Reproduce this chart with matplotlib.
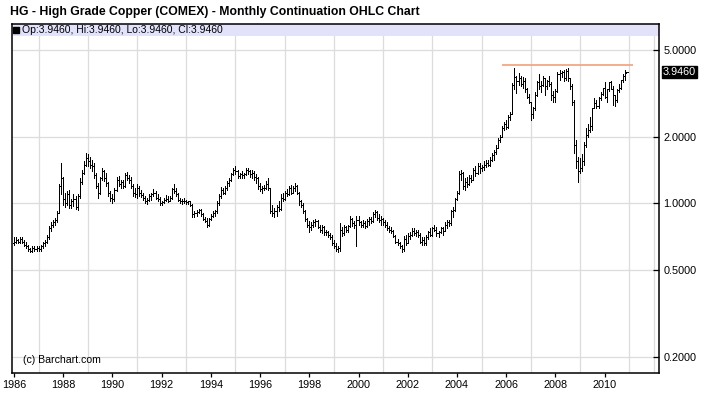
import numpy as np
import matplotlib
matplotlib.use("Agg")
from matplotlib import pyplot as plt
from matplotlib.collections import LineCollection
from matplotlib.patches import Rectangle
from matplotlib.ticker import FixedLocator, NullLocator, FixedFormatter
import matplotlib.transforms as mtransforms

plt.rcParams['font.family'] = ['Liberation Sans', 'DejaVu Sans']

first_year = 1986

# monthly continuation bars, one row per year (1986 .. 2010)
opens = [
    0.66, 0.67, 0.68, 0.67, 0.69, 0.67, 0.65, 0.64, 0.62, 0.61, 0.63, 0.62,
    0.63, 0.62, 0.64, 0.66, 0.67, 0.70, 0.77, 0.80, 0.82, 0.84, 0.90, 1.20,
    1.30, 1.05, 1.00, 1.10, 0.98, 1.02, 1.05, 0.96, 1.08, 1.25, 1.38, 1.50,
    1.60, 1.55, 1.50, 1.48, 1.35, 1.20, 1.12, 1.30, 1.40, 1.30, 1.24, 1.12,
    1.06, 1.05, 1.15, 1.28, 1.22, 1.25, 1.20, 1.35, 1.30, 1.28, 1.20, 1.12,
    1.10, 1.18, 1.12, 1.09, 1.06, 1.02, 1.04, 1.08, 1.10, 1.12, 1.06, 1.05,
    1.00, 1.01, 1.04, 1.05, 1.03, 1.06, 1.16, 1.14, 1.10, 1.04, 1.02, 1.03,
    1.03, 1.01, 1.02, 0.98, 0.89, 0.90, 0.91, 0.93, 0.89, 0.85, 0.83, 0.80,
    0.85, 0.88, 0.90, 0.92, 1.00, 1.08, 1.15, 1.12, 1.18, 1.24, 1.28, 1.36,
    1.42, 1.40, 1.33, 1.36, 1.34, 1.36, 1.42, 1.40, 1.36, 1.38, 1.32, 1.30,
    1.20, 1.16, 1.18, 1.17, 1.22, 1.18, 0.92, 0.90, 0.92, 0.96, 0.94, 1.06,
    1.05, 1.12, 1.10, 1.17, 1.12, 1.18, 1.20, 1.12, 1.02, 0.98, 0.92, 0.85,
    0.80, 0.78, 0.80, 0.82, 0.83, 0.78, 0.76, 0.78, 0.74, 0.74, 0.72, 0.70,
    0.66, 0.64, 0.62, 0.63, 0.76, 0.73, 0.78, 0.76, 0.79, 0.85, 0.81, 0.80,
    0.84, 0.82, 0.80, 0.81, 0.79, 0.83, 0.85, 0.83, 0.89, 0.91, 0.86, 0.84,
    0.85, 0.82, 0.80, 0.77, 0.76, 0.75, 0.71, 0.67, 0.66, 0.64, 0.62, 0.69,
    0.66, 0.71, 0.72, 0.75, 0.73, 0.74, 0.72, 0.67, 0.68, 0.66, 0.70, 0.74,
    0.72, 0.77, 0.76, 0.73, 0.74, 0.77, 0.75, 0.80, 0.82, 0.81, 0.92, 0.93,
    1.05, 1.12, 1.36, 1.38, 1.20, 1.25, 1.22, 1.30, 1.28, 1.42, 1.38, 1.48,
    1.45, 1.47, 1.50, 1.52, 1.50, 1.58, 1.65, 1.72, 1.78, 1.95, 2.00, 2.20,
    2.30, 2.22, 2.48, 2.55, 3.45, 3.75, 3.60, 3.70, 3.50, 3.60, 3.30, 3.05,
    2.88, 2.55, 2.70, 3.10, 3.55, 3.40, 3.45, 3.70, 3.40, 3.60, 3.50, 3.10,
    3.03, 3.25, 3.85, 3.90, 3.95, 3.70, 3.98, 3.70, 3.40, 2.90, 1.85, 1.55,
    1.40, 1.45, 1.55, 1.85, 2.05, 2.15, 2.25, 2.70, 2.85, 2.78, 3.00, 3.15,
    3.33, 3.05, 3.30, 3.55, 3.30, 3.10, 2.95, 3.28, 3.35, 3.62, 3.78, 3.946,
]
highs = [
    0.70, 0.70, 0.69, 0.70, 0.70, 0.68, 0.67, 0.65, 0.63, 0.64, 0.64, 0.64,
    0.64, 0.65, 0.67, 0.68, 0.72, 0.79, 0.82, 0.84, 0.86, 0.92, 1.23, 1.52,
    1.32, 1.12, 1.14, 1.15, 1.05, 1.10, 1.08, 1.10, 1.30, 1.42, 1.55, 1.69,
    1.68, 1.62, 1.58, 1.52, 1.38, 1.24, 1.32, 1.44, 1.42, 1.38, 1.25, 1.14,
    1.10, 1.18, 1.32, 1.33, 1.28, 1.28, 1.38, 1.39, 1.35, 1.32, 1.22, 1.18,
    1.22, 1.20, 1.15, 1.12, 1.08, 1.06, 1.10, 1.12, 1.16, 1.14, 1.10, 1.07,
    1.03, 1.06, 1.09, 1.08, 1.08, 1.18, 1.22, 1.18, 1.12, 1.06, 1.05, 1.06,
    1.04, 1.03, 1.03, 0.99, 0.92, 0.93, 0.94, 0.94, 0.90, 0.87, 0.86, 0.86,
    0.89, 0.92, 0.93, 1.02, 1.10, 1.19, 1.18, 1.20, 1.26, 1.30, 1.38, 1.45,
    1.48, 1.42, 1.38, 1.40, 1.38, 1.44, 1.45, 1.42, 1.42, 1.40, 1.36, 1.32,
    1.24, 1.20, 1.21, 1.26, 1.30, 1.18, 0.98, 0.95, 0.98, 1.02, 1.10, 1.12,
    1.14, 1.16, 1.20, 1.21, 1.20, 1.24, 1.21, 1.13, 1.04, 1.00, 0.93, 0.86,
    0.83, 0.82, 0.84, 0.85, 0.84, 0.80, 0.80, 0.79, 0.76, 0.75, 0.73, 0.72,
    0.68, 0.66, 0.64, 0.81, 0.78, 0.80, 0.79, 0.80, 0.88, 0.86, 0.83, 0.88,
    0.88, 0.83, 0.84, 0.83, 0.85, 0.87, 0.87, 0.91, 0.93, 0.92, 0.89, 0.88,
    0.86, 0.84, 0.82, 0.79, 0.78, 0.76, 0.72, 0.69, 0.67, 0.65, 0.71, 0.72,
    0.73, 0.74, 0.77, 0.77, 0.76, 0.76, 0.73, 0.70, 0.70, 0.72, 0.75, 0.77,
    0.78, 0.80, 0.78, 0.75, 0.78, 0.78, 0.82, 0.84, 0.84, 0.93, 0.96, 1.06,
    1.14, 1.40, 1.42, 1.39, 1.30, 1.32, 1.34, 1.35, 1.45, 1.48, 1.52, 1.52,
    1.50, 1.55, 1.57, 1.58, 1.62, 1.70, 1.75, 1.84, 1.98, 2.05, 2.25, 2.35,
    2.40, 2.52, 2.60, 3.51, 4.10, 3.80, 3.90, 3.80, 3.75, 3.70, 3.35, 3.15,
    2.90, 2.75, 3.20, 3.60, 3.85, 3.60, 3.80, 3.72, 3.65, 3.80, 3.55, 3.25,
    3.30, 3.95, 4.05, 4.00, 4.05, 4.08, 4.10, 3.70, 3.50, 2.95, 1.95, 1.62,
    1.60, 1.68, 1.90, 2.20, 2.30, 2.48, 2.70, 3.00, 2.95, 3.05, 3.20, 3.35,
    3.55, 3.30, 3.55, 3.60, 3.40, 3.10, 3.30, 3.50, 3.65, 3.85, 4.02, 3.946,
]
lows = [
    0.65, 0.66, 0.66, 0.66, 0.66, 0.64, 0.63, 0.61, 0.60, 0.60, 0.61, 0.61,
    0.61, 0.61, 0.63, 0.64, 0.66, 0.69, 0.75, 0.78, 0.80, 0.82, 0.90, 1.10,
    0.98, 0.96, 0.98, 0.95, 0.95, 0.97, 0.94, 0.93, 1.06, 1.23, 1.36, 1.48,
    1.48, 1.44, 1.40, 1.30, 1.17, 1.06, 1.10, 1.28, 1.26, 1.20, 1.08, 1.02,
    1.00, 1.03, 1.14, 1.20, 1.18, 1.17, 1.19, 1.27, 1.24, 1.18, 1.08, 1.07,
    1.06, 1.08, 1.07, 1.04, 1.00, 0.99, 1.02, 1.04, 1.08, 1.05, 1.03, 0.98,
    0.98, 1.00, 1.02, 1.01, 1.02, 1.05, 1.12, 1.08, 1.03, 1.00, 0.99, 1.00,
    0.99, 0.99, 0.97, 0.87, 0.87, 0.88, 0.90, 0.88, 0.84, 0.82, 0.78, 0.79,
    0.84, 0.87, 0.88, 0.90, 0.98, 1.06, 1.10, 1.10, 1.15, 1.20, 1.26, 1.34,
    1.36, 1.30, 1.30, 1.31, 1.30, 1.35, 1.36, 1.32, 1.30, 1.28, 1.24, 1.16,
    1.14, 1.12, 1.15, 1.16, 1.15, 0.90, 0.88, 0.87, 0.88, 0.92, 0.93, 1.02,
    1.04, 1.08, 1.09, 1.10, 1.11, 1.14, 1.10, 0.98, 0.96, 0.90, 0.83, 0.78,
    0.74, 0.76, 0.78, 0.79, 0.77, 0.74, 0.73, 0.72, 0.72, 0.70, 0.69, 0.65,
    0.63, 0.61, 0.60, 0.61, 0.71, 0.72, 0.74, 0.74, 0.78, 0.79, 0.77, 0.64,
    0.80, 0.78, 0.78, 0.77, 0.78, 0.80, 0.81, 0.82, 0.87, 0.84, 0.82, 0.80,
    0.80, 0.78, 0.76, 0.74, 0.73, 0.70, 0.66, 0.65, 0.63, 0.60, 0.61, 0.65,
    0.66, 0.69, 0.71, 0.72, 0.71, 0.70, 0.66, 0.65, 0.65, 0.65, 0.69, 0.71,
    0.71, 0.75, 0.71, 0.70, 0.73, 0.72, 0.75, 0.77, 0.79, 0.80, 0.87, 0.92,
    1.04, 1.10, 1.28, 1.16, 1.15, 1.19, 1.21, 1.25, 1.27, 1.33, 1.36, 1.38,
    1.40, 1.42, 1.47, 1.48, 1.48, 1.55, 1.58, 1.68, 1.78, 1.90, 2.00, 2.15,
    2.18, 2.20, 2.40, 2.55, 3.30, 3.16, 3.45, 3.40, 3.35, 3.20, 3.00, 2.85,
    2.40, 2.45, 2.66, 3.08, 3.30, 3.20, 3.40, 3.10, 3.30, 3.40, 2.95, 2.90,
    2.90, 3.20, 3.65, 3.75, 3.60, 3.65, 3.60, 3.30, 2.80, 1.70, 1.45, 1.25,
    1.38, 1.40, 1.50, 1.80, 2.00, 2.12, 2.15, 2.70, 2.70, 2.70, 2.95, 3.10,
    3.00, 2.90, 3.25, 3.30, 2.80, 2.76, 2.90, 3.20, 3.30, 3.55, 3.62, 3.946,
]
closes = [
    0.67, 0.68, 0.67, 0.69, 0.67, 0.65, 0.64, 0.62, 0.61, 0.63, 0.62, 0.63,
    0.62, 0.64, 0.66, 0.67, 0.70, 0.77, 0.80, 0.82, 0.84, 0.90, 1.20, 1.30,
    1.05, 1.00, 1.10, 0.98, 1.02, 1.05, 0.96, 1.08, 1.25, 1.38, 1.50, 1.60,
    1.55, 1.50, 1.48, 1.35, 1.20, 1.12, 1.30, 1.40, 1.30, 1.24, 1.12, 1.06,
    1.05, 1.15, 1.28, 1.22, 1.25, 1.20, 1.35, 1.30, 1.28, 1.20, 1.12, 1.10,
    1.18, 1.12, 1.09, 1.06, 1.02, 1.04, 1.08, 1.10, 1.12, 1.06, 1.05, 1.00,
    1.01, 1.04, 1.05, 1.03, 1.06, 1.16, 1.14, 1.10, 1.04, 1.02, 1.03, 1.03,
    1.01, 1.02, 0.98, 0.89, 0.90, 0.91, 0.93, 0.89, 0.85, 0.83, 0.80, 0.85,
    0.88, 0.90, 0.92, 1.00, 1.08, 1.15, 1.12, 1.18, 1.24, 1.28, 1.36, 1.42,
    1.40, 1.33, 1.36, 1.34, 1.36, 1.42, 1.40, 1.36, 1.38, 1.32, 1.30, 1.20,
    1.16, 1.18, 1.17, 1.22, 1.18, 0.92, 0.90, 0.92, 0.96, 0.94, 1.06, 1.05,
    1.12, 1.10, 1.17, 1.12, 1.18, 1.20, 1.12, 1.02, 0.98, 0.92, 0.85, 0.80,
    0.78, 0.80, 0.82, 0.83, 0.78, 0.76, 0.78, 0.74, 0.74, 0.72, 0.70, 0.66,
    0.64, 0.62, 0.63, 0.76, 0.73, 0.78, 0.76, 0.79, 0.85, 0.81, 0.80, 0.84,
    0.82, 0.80, 0.81, 0.79, 0.83, 0.85, 0.83, 0.89, 0.91, 0.86, 0.84, 0.85,
    0.82, 0.80, 0.77, 0.76, 0.75, 0.71, 0.67, 0.66, 0.64, 0.62, 0.69, 0.66,
    0.71, 0.72, 0.75, 0.73, 0.74, 0.72, 0.67, 0.68, 0.66, 0.70, 0.74, 0.72,
    0.77, 0.76, 0.73, 0.74, 0.77, 0.75, 0.80, 0.82, 0.81, 0.92, 0.93, 1.05,
    1.12, 1.36, 1.38, 1.20, 1.25, 1.22, 1.30, 1.28, 1.42, 1.38, 1.48, 1.45,
    1.47, 1.50, 1.52, 1.50, 1.58, 1.65, 1.72, 1.78, 1.95, 2.00, 2.20, 2.30,
    2.22, 2.48, 2.55, 3.45, 3.75, 3.60, 3.70, 3.50, 3.60, 3.30, 3.05, 2.88,
    2.55, 2.70, 3.10, 3.55, 3.40, 3.45, 3.70, 3.40, 3.60, 3.50, 3.10, 3.03,
    3.25, 3.85, 3.90, 3.95, 3.70, 3.98, 3.70, 3.40, 2.90, 1.85, 1.55, 1.40,
    1.45, 1.55, 1.85, 2.05, 2.15, 2.25, 2.70, 2.85, 2.78, 3.00, 3.15, 3.33,
    3.05, 3.30, 3.55, 3.30, 3.10, 2.95, 3.28, 3.35, 3.62, 3.78, 3.90, 3.946,
]

last_price = 3.946
high_line = 4.25
high_line_from = 2005.83
high_line_to = 2011.14
price_ticks = [0.2, 0.5, 1.0, 2.0, 5.0]
year_ticks = list(range(1986, 2011, 2))
grid_years = list(range(1986, 2013))

t = first_year + np.arange(len(closes)) / 12.0

W, H = 702, 394
fig = plt.figure(figsize=(W / 100, H / 100), dpi=100)
ax = fig.add_axes([11.7 / W, 1 - 372.7 / H, (659.3 - 11.7) / W, (372.7 - 24) / H])
ax.set_yscale('log')
ax.set_xlim(1985.907, 2012.22)
ax.set_ylim(0.170, 6.53)

# OHLC bars
w = 0.036
segs = []
for x, o, h, l, c in zip(t, opens, highs, lows, closes):
    segs.append([(x, l), (x, h)])
    segs.append([(x - w, o), (x, o)])
    segs.append([(x, c), (x + w, c)])
ax.add_collection(LineCollection(segs, colors='black', linewidths=0.7,
                                 antialiaseds=False, zorder=3))

ax.hlines(high_line, high_line_from, high_line_to, color='#f2a07c', lw=1.2, zorder=2.5)

# grid + axes styling
ax.set_axisbelow(True)
ax.xaxis.set_major_locator(FixedLocator(year_ticks))
ax.xaxis.set_major_formatter(FixedFormatter([str(y) for y in year_ticks]))
ax.xaxis.set_minor_locator(FixedLocator(grid_years))
ax.yaxis.set_major_locator(FixedLocator(price_ticks))
ax.yaxis.set_major_formatter(FixedFormatter(["%.4f" % v for v in price_ticks]))
ax.yaxis.set_minor_locator(NullLocator())
ax.yaxis.tick_right()
ax.grid(True, which='minor', axis='x', color='#dcdcdc', lw=0.9)
ax.grid(True, which='major', axis='y', color='#dcdcdc', lw=0.9)
ax.tick_params(axis='x', which='major', direction='out', length=3, width=0.9,
               labelsize=7.8, pad=2)
ax.tick_params(axis='x', which='minor', length=0)
ax.tick_params(axis='y', which='major', direction='in', length=4, width=0.9,
               labelsize=7.8, pad=3, right=True, left=False)
for s in ax.spines.values():
    s.set_linewidth(1.1)
    s.set_color('black')

# legend band at top of plot
band_h = 12 / 348.7
ax.add_patch(Rectangle((0, 1 - band_h), 1, band_h, transform=ax.transAxes,
                       facecolor='#e2e2fa', edgecolor='none', zorder=1.5))
ax.plot([0.00587], [1 - band_h / 2], marker='s', ms=3.7, color='black',
        transform=ax.transAxes, zorder=4, clip_on=False)
ax.text(0.0159, 1 - band_h / 2, "Op:3.9460, Hi:3.9460, Lo:3.9460, Cl:3.9460",
        transform=ax.transAxes, fontsize=7.5, va='center', ha='left', zorder=4)

ax.text(0.0174, 0.0364, "(c) Barchart.com", transform=ax.transAxes,
        fontsize=7.6, va='center', ha='left')

# last price box on the price axis
trans = mtransforms.blended_transform_factory(ax.transAxes, ax.transData)
ax.text(1.0058, last_price, "%.4f" % last_price, transform=trans, color='white',
        fontsize=7.8, va='center', ha='left', clip_on=False,
        bbox=dict(boxstyle='square,pad=0.12', fc='black', ec='black'))

fig.text(10 / W, 1 - 12.5 / H,
         "HG - High Grade Copper (COMEX) - Monthly Continuation OHLC Chart",
         fontsize=8.8, fontweight='bold', va='center', ha='left')

fig.savefig("out.png", dpi=100)
